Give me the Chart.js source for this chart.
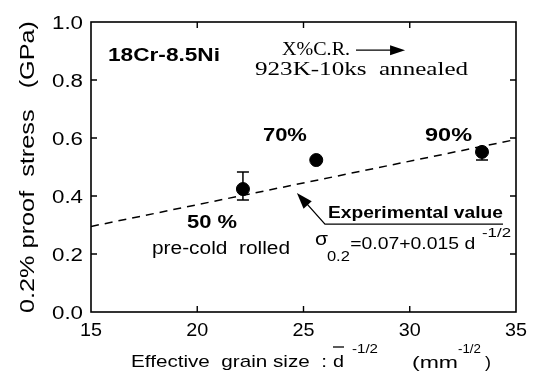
<!DOCTYPE html>
<html>
<head>
<meta charset="utf-8">
<script src="https://cdn.jsdelivr.net/npm/chart.js@4.4.1/dist/chart.umd.min.js"></script>
<style>
  html, body { margin: 0; padding: 0; background: #fff; }
  #wrap { width: 533px; height: 385px; }
</style>
</head>
<body>
<div id="wrap"><canvas id="proofChart" width="533" height="385"></canvas></div>
<script>
// measured points (pre-cold rolled 50/70/90 %)
const grainSize = [22.15, 25.6, 33.4];
const proofStress = [0.424, 0.524, 0.552];
const errLow = [0.386, 0.524, 0.524];
const errHigh = [0.483, 0.524, 0.56];
const pointLabels = ['50 %', '70%', '90%'];

// fit line sigma = 0.07 + 0.015 d^-1/2, read at axis ends
const fitX = [15, 35];
const fitY = [0.295, 0.595];

const xTicks = [15, 20, 25, 30, 35];
const yTicks = [0, 0.2, 0.4, 0.6, 0.8, 1.0];

const SANS = '"Liberation Sans", Arial, sans-serif';
const SERIF = '"Liberation Serif", "Times New Roman", serif';

// draw text stretched horizontally so it spans `width` px (old typeset look)
function fitText(ctx, text, x, y, width, font, align) {
  ctx.save();
  ctx.font = font;
  const w = ctx.measureText(text).width;
  const sx = width ? width / w : 1;
  let x0 = x;
  if (align === 'center') x0 = x - w * sx / 2;
  else if (align === 'right') x0 = x - w * sx;
  ctx.translate(x0, y);
  ctx.scale(sx, 1);
  ctx.textAlign = 'left';
  ctx.fillText(text, 0, 0);
  ctx.restore();
  return w * sx;
}

function arrowHead(ctx, x1, y1, x2, y2, len, half) {
  const a = Math.atan2(y2 - y1, x2 - x1);
  ctx.beginPath();
  ctx.moveTo(x2, y2);
  ctx.lineTo(x2 - len * Math.cos(a) + half * Math.sin(a), y2 - len * Math.sin(a) - half * Math.cos(a));
  ctx.lineTo(x2 - len * Math.cos(a) - half * Math.sin(a), y2 - len * Math.sin(a) + half * Math.cos(a));
  ctx.closePath();
  ctx.fill();
}

const framePlugin = {
  id: 'frame',
  afterDraw(chart) {
    const ctx = chart.ctx;
    const a = chart.chartArea;
    const xs = chart.scales.x, ys = chart.scales.y;
    const X = v => xs.getPixelForValue(v);
    const Y = v => ys.getPixelForValue(v);
    ctx.save();
    ctx.strokeStyle = '#000';
    ctx.fillStyle = '#000';
    ctx.textBaseline = 'alphabetic';

    // frame
    ctx.lineWidth = 1.6;
    ctx.strokeRect(a.left, a.top, a.right - a.left, a.bottom - a.top);

    // inward ticks
    ctx.lineWidth = 1.4;
    ctx.beginPath();
    xTicks.slice(1, -1).forEach(t => {
      ctx.moveTo(X(t), a.bottom); ctx.lineTo(X(t), a.bottom - 6);
      ctx.moveTo(X(t), a.top); ctx.lineTo(X(t), a.top + 6);
    });
    yTicks.slice(1, -1).forEach(t => {
      ctx.moveTo(a.left, Y(t)); ctx.lineTo(a.left + 6, Y(t));
      ctx.moveTo(a.right, Y(t)); ctx.lineTo(a.right - 6, Y(t));
    });
    ctx.stroke();

    // tick labels
    const tickFont = '18px ' + SANS;
    yTicks.forEach(t => fitText(ctx, t.toFixed(1), a.left - 8, Y(t) + 6.5, 31, tickFont, 'right'));
    xTicks.forEach(t => fitText(ctx, String(t), X(t), a.bottom + 24, 22, tickFont, 'center'));

    // error bars
    ctx.lineWidth = 1.5;
    grainSize.forEach((g, i) => {
      if (errHigh[i] - errLow[i] < 0.001) return;
      const px = X(g);
      ctx.beginPath();
      ctx.moveTo(px, Y(errLow[i])); ctx.lineTo(px, Y(errHigh[i]));
      ctx.moveTo(px - 6, Y(errLow[i])); ctx.lineTo(px + 6, Y(errLow[i]));
      ctx.moveTo(px - 6, Y(errHigh[i])); ctx.lineTo(px + 6, Y(errHigh[i]));
      ctx.stroke();
    });

    // point labels
    const bold18 = 'bold 18px ' + SANS;
    fitText(ctx, pointLabels[0], X(19.52), Y(0.29), 50, bold18);
    fitText(ctx, pointLabels[1], X(23.09), Y(0.59), 44, bold18);
    fitText(ctx, pointLabels[2], X(30.72), Y(0.59), 47, bold18);
    fitText(ctx, 'pre-cold  rolled', X(17.87), Y(0.2), 138, '18px ' + SANS);

    // top-left notes
    fitText(ctx, '18Cr-8.5Ni', X(15.8), Y(0.866), 112, bold18);
    fitText(ctx, 'X%C.R.', X(23.99), Y(0.886), 68, '18px ' + SERIF);
    fitText(ctx, '923K-10ks  annealed', X(22.72), Y(0.817), 213, '18px ' + SERIF);
    ctx.lineWidth = 1.4;
    ctx.beginPath();
    ctx.moveTo(X(27.47), Y(0.903)); ctx.lineTo(X(29.2), Y(0.903));
    ctx.stroke();
    arrowHead(ctx, X(27.47), Y(0.903), X(29.78), Y(0.903), 15, 5);

    // experimental value callout
    fitText(ctx, 'Experimental value', X(26.15), Y(0.324), 175, 'bold 16px ' + SANS);
    const ux = X(26.01), uy = Y(0.303);
    ctx.lineWidth = 1.3;
    ctx.beginPath();
    ctx.moveTo(X(34.39), uy); ctx.lineTo(ux, uy);
    ctx.lineTo(X(24.95), Y(0.39));
    ctx.stroke();
    arrowHead(ctx, ux, uy, X(24.69), Y(0.41), 16, 5.5);

    // formula
    fitText(ctx, '\u03c3', X(25.54), Y(0.232), 13, '18px ' + SANS);
    fitText(ctx, '0.2', X(26.1), Y(0.176), 23, '15px ' + SANS);
    fitText(ctx, '=0.07+0.015 d', X(27.2), Y(0.217), 125, '17px ' + SANS);
    fitText(ctx, '-1/2', X(33.4), Y(0.259), 29, '13px ' + SANS);

    // x axis title
    const ty = 367;
    fitText(ctx, 'Effective  grain size  :', 131, ty, 196, '17px ' + SANS);
    const dx = fitText(ctx, 'd', 333, ty, 11, '17px ' + SANS);
    ctx.lineWidth = 1.3;
    ctx.beginPath();
    ctx.moveTo(333, ty - 20); ctx.lineTo(333 + dx, ty - 20);
    ctx.stroke();
    fitText(ctx, '-1/2', 352, ty - 14, 26, '13px ' + SANS);
    fitText(ctx, '(mm', 412, ty + 1, 46, '17px ' + SANS);
    fitText(ctx, '-1/2', 458, ty - 14, 23, '13px ' + SANS);
    fitText(ctx, ')', 485, ty + 1, 6, '17px ' + SANS);

    // y axis title
    ctx.translate(34, (a.top + a.bottom) / 2);
    ctx.rotate(-Math.PI / 2);
    fitText(ctx, '0.2% proof  stress   (GPa)', 0, 0, 292, '20px ' + SANS, 'center');
    ctx.restore();
  }
};

const ctx = document.getElementById('proofChart').getContext('2d');
const proofChart = new Chart(ctx, {
  type: 'scatter',
  data: {
    datasets: [
      {
        label: 'Measured',
        data: grainSize.map((g, i) => ({ x: g, y: proofStress[i] })),
        backgroundColor: '#000',
        borderColor: '#000',
        pointRadius: 6.5,
        pointHoverRadius: 6.5
      },
      {
        type: 'line',
        label: 'Experimental value',
        data: fitX.map((x, i) => ({ x: x, y: fitY[i] })),
        borderColor: '#000',
        borderWidth: 1.5,
        borderDash: [8, 6],
        pointRadius: 0,
        fill: false
      }
    ]
  },
  options: {
    responsive: false,
    animation: false,
    devicePixelRatio: 1,
    layout: { padding: { top: 22, right: 17, left: 0, bottom: 0 } },
    plugins: { legend: { display: false }, tooltip: { enabled: false } },
    scales: {
      x: {
        type: 'linear',
        min: 15, max: 35,
        afterFit: s => { s.height = 73; },
        afterBuildTicks: s => { s.ticks = xTicks.map(v => ({ value: v })); },
        grid: { display: false, drawTicks: false },
        border: { display: false },
        ticks: { display: false }
      },
      y: {
        type: 'linear',
        min: 0, max: 1,
        afterFit: s => { s.width = 91; },
        afterBuildTicks: s => { s.ticks = yTicks.map(v => ({ value: v })); },
        grid: { display: false, drawTicks: false },
        border: { display: false },
        ticks: { display: false }
      }
    }
  },
  plugins: [framePlugin]
});
</script>
</body>
</html>
